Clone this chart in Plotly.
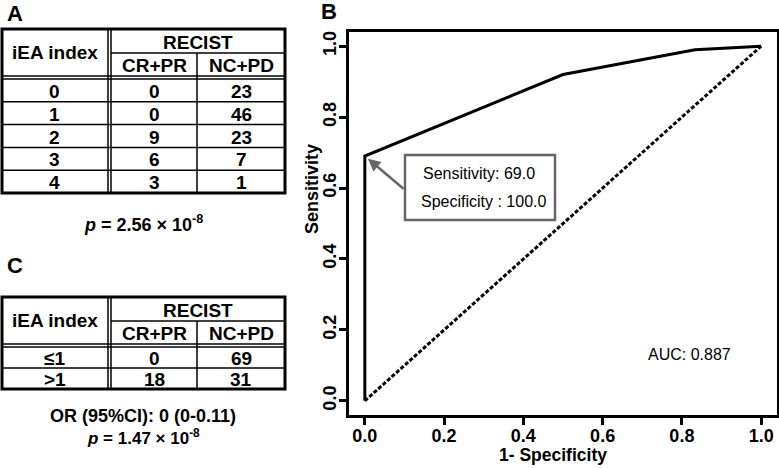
"""
iEA index vs RECIST tables (A, C) and ROC curve (B)
"""
import plotly.graph_objects as go

W, H = 779, 468
FONT = "Arial, Liberation Sans, sans-serif"

# Table A data
iea_a = ["0", "1", "2", "3", "4"]
crpr_a = [0, 0, 9, 6, 3]
ncpd_a = [23, 46, 23, 7, 1]

# Table C data
iea_c = ["≤1", ">1"]
crpr_c = [0, 18]
ncpd_c = [69, 31]

# ROC curve (1 - specificity, sensitivity)
fpr = [0, 0, 0, 0.5, 0.833, 1]
tpr = [0, 0.23, 0.69, 0.92, 0.99, 1]
auc = 0.887
best_sens, best_spec = 69.0, 100.0
ticks = [0.0, 0.2, 0.4, 0.6, 0.8, 1.0]

# plot area in pixels
PL, PR, PT, PB = 349, 777, 32, 415
RNG = [-0.04, 1.04]


def px(x):
    return x / W


def py(y):
    return 1 - y / H


def data_x(x):
    return RNG[0] + (x - PL) / (PR - PL) * (RNG[1] - RNG[0])


def data_y(y):
    return RNG[0] + (PB - y) / (PB - PT) * (RNG[1] - RNG[0])


shapes = []
annotations = []


def line(x0, y0, x1, y1, width=1.5, color="black"):
    shapes.append(dict(type="line", xref="paper", yref="paper",
                       x0=px(x0), y0=py(y0), x1=px(x1), y1=py(y1),
                       line=dict(color=color, width=width)))


def text(x, y, s, size=19, bold=True, **kw):
    annotations.append(dict(xref="paper", yref="paper", x=px(x), y=py(y),
                            text=s, showarrow=False,
                            font=dict(family=FONT, size=size, color="black",
                                      weight="bold" if bold else "normal"),
                            xanchor="center", yanchor="middle", **kw))


# Function to draw one of the contingency tables
def draw_table(top, rows_idx, col1, col2, row_h):
    left, right = 2, 285
    c1, c2 = 108, 197
    h1 = top + 24
    h2 = h1 + 23
    body = h2 + 3
    bottom = body + row_h * len(rows_idx)
    # outer border
    shapes.append(dict(type="rect", xref="paper", yref="paper",
                       x0=px(left), y0=py(top), x1=px(right), y1=py(bottom),
                       line=dict(color="black", width=3)))
    # double line under header and after first column
    line(left, h2, right, h2)
    line(left, body, right, body)
    line(c1, top, c1, bottom)
    line(c1 + 3, top, c1 + 3, bottom)
    # header inner lines
    line(c1 + 3, h1, right, h1)
    line(c2, h1, c2, bottom)
    for i in range(1, len(rows_idx)):
        yy = body + row_h * i
        line(left, yy, right, yy)
    # header text
    text((left + c1) / 2, (top + h2) / 2, "iEA index")
    text((c1 + 3 + right) / 2, (top + h1) / 2 + 1, "RECIST")
    text((c1 + 3 + c2) / 2, (h1 + h2) / 2 + 1, "CR+PR")
    text((c2 + right) / 2, (h1 + h2) / 2 + 1, "NC+PD")
    for i, (a, b, c) in enumerate(zip(rows_idx, col1, col2)):
        yc = body + row_h * (i + 0.5) + 1
        text((left + c1) / 2, yc, a)
        text((c1 + 3 + c2) / 2, yc, str(b))
        text((c2 + right) / 2, yc, str(c))
    return bottom


draw_table(29, iea_a, crpr_a, ncpd_a, 22.8)
draw_table(297, iea_c, crpr_c, ncpd_c, 21)

text(143, 223, "<i>p</i> = 2.56 × 10<sup>-8</sup>", size=18)
text(143, 416, "OR (95%CI): 0 (0-0.11)", size=18)
text(143, 437, "<i>p</i> = 1.47 × 10<sup>-8</sup>", size=17)

# panel letters
text(15, 13, "A", size=22)
text(329, 11, "B", size=22)
text(15, 265, "C", size=22)

fig = go.Figure()
fig.add_trace(go.Scatter(x=[0, 1], y=[0, 1], mode="lines",
                         line=dict(color="black", width=3, dash="4px,2px"),
                         hoverinfo="skip"))
fig.add_trace(go.Scatter(x=fpr, y=tpr, mode="lines",
                         line=dict(color="black", width=3)))

# best cut-off box with arrow
shapes.append(dict(type="rect", xref="paper", yref="paper",
                   x0=px(405), y0=py(155), x1=px(555), y1=py(220),
                   line=dict(color="#666666", width=2.5), fillcolor="white"))
text(479, 173, f"Sensitivity: {best_sens:.1f}", size=16, bold=False)
text(484, 201, f"Specificity : {best_spec:.1f}", size=16, bold=False)
annotations.append(dict(x=fpr[2], y=tpr[2], xref="x", yref="y",
                        ax=data_x(405), ay=data_y(190), axref="x", ayref="y",
                        text="", showarrow=True, arrowhead=2, arrowsize=1,
                        arrowwidth=2.5, arrowcolor="#666666", standoff=4))
text(689, 354, f"AUC: {auc:.3f}", size=16, bold=False)

# axis titles
text(553, 455, "1- Specificity", size=17.5)
text(312, 189, "Sensitivity", size=18, textangle=-90)

axis_common = dict(range=RNG, tickvals=ticks,
                   ticktext=[f"{t:.1f}" for t in ticks],
                   showgrid=False, zeroline=False, showline=True, mirror=True,
                   linecolor="black", linewidth=3, ticks="outside", ticklen=7,
                   tickwidth=3, tickcolor="black", ticklabeloverflow="allow",
                   tickfont=dict(family=FONT, size=18, color="black", weight="bold"))

fig.update_layout(
    width=W, height=H,
    margin=dict(l=0, r=0, t=0, b=0),
    paper_bgcolor="white", plot_bgcolor="white",
    showlegend=False,
    xaxis=dict(domain=[px(PL), px(PR)], ticklabelstandoff=-5, **axis_common),
    yaxis=dict(domain=[py(PB), py(PT)], tickangle=-90, ticklabelstandoff=-4,
               **axis_common),
    shapes=shapes,
    annotations=annotations,
)

# page body margin would push the figure 8px off the window
fig.write_html("out.html", config={"displayModeBar": False},
               post_script="document.body.style.margin='0';")
